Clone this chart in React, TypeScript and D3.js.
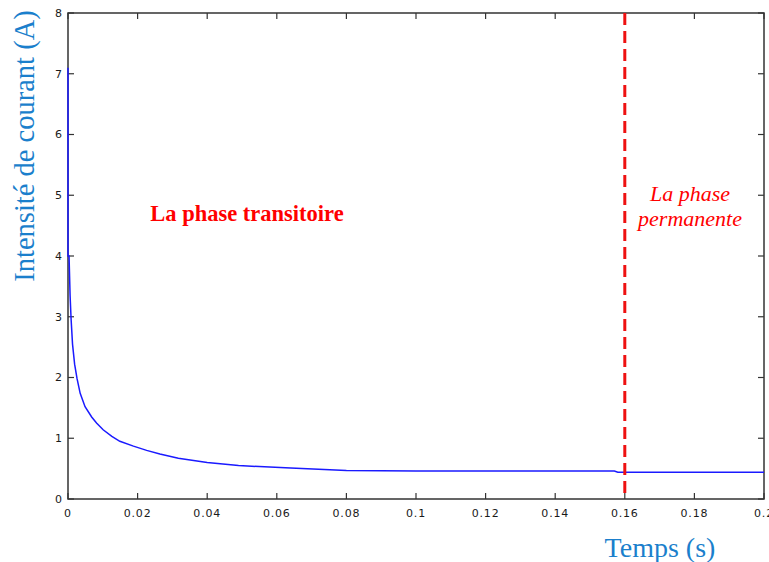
import { useEffect, useRef } from 'react';
import * as d3 from 'd3';

// courbe du courant (A) en fonction du temps (s)
const times = [0, 0, 0.0003, 0.0006, 0.0009, 0.0013, 0.0019, 0.0026, 0.0035, 0.0049, 0.0068, 0.0082, 0.0101, 0.0126, 0.0149, 0.0188, 0.0226, 0.0264, 0.0317, 0.04, 0.049, 0.064, 0.08, 0.1, 0.157, 0.158, 0.2];
const current = [7.1, 4.0, 4.0, 3.35, 2.95, 2.55, 2.22, 1.98, 1.74, 1.52, 1.35, 1.25, 1.14, 1.03, 0.95, 0.87, 0.8, 0.74, 0.67, 0.6, 0.55, 0.51, 0.47, 0.46, 0.46, 0.44, 0.44];
const xTicks = [0, 0.02, 0.04, 0.06, 0.08, 0.1, 0.12, 0.14, 0.16, 0.18, 0.2];
const xTickLabels = ['0', '0.02', '0.04', '0.06', '0.08', '0.1', '0.12', '0.14', '0.16', '0.18', '0.2'];
const yTicks = [0, 1, 2, 3, 4, 5, 6, 7, 8];
const boundary = 0.16;

export default function App() {
  const svgRef = useRef<SVGSVGElement>(null);
  const width = 769;
  const height = 562;

  useEffect(() => {
    if (!svgRef.current) return;
    const svg = d3.select(svgRef.current);
    svg.selectAll('*').remove();

    const margin = { top: 13, right: 5, bottom: 63, left: 68 };
    const x = d3.scaleLinear().domain([0, 0.2]).range([margin.left, width - margin.right]);
    const y = d3.scaleLinear().domain([0, 8]).range([height - margin.bottom, margin.top]);
    const axisColor = '#333';
    const tickFont = 'DejaVu Sans, sans-serif';

    // cadre
    svg.append('rect')
      .attr('x', x(0)).attr('y', y(8))
      .attr('width', x(0.2) - x(0)).attr('height', y(0) - y(8))
      .attr('fill', 'none').attr('stroke', axisColor).attr('stroke-width', 1.5);

    // ticks intérieurs (bas + haut)
    const xt = svg.append('g');
    xTicks.forEach((t, i) => {
      xt.append('line').attr('x1', x(t)).attr('x2', x(t)).attr('y1', y(0)).attr('y2', y(0) - 6)
        .attr('stroke', axisColor).attr('stroke-width', 1.2);
      xt.append('line').attr('x1', x(t)).attr('x2', x(t)).attr('y1', y(8)).attr('y2', y(8) + 6)
        .attr('stroke', axisColor).attr('stroke-width', 1.2);
      xt.append('text').attr('x', x(t)).attr('y', y(0) + 18)
        .attr('text-anchor', 'middle').attr('font-family', tickFont).attr('font-size', 11)
        .attr('letter-spacing', 0.8).attr('fill', '#1a1a1a').text(xTickLabels[i]);
    });

    const yt = svg.append('g');
    yTicks.forEach(v => {
      yt.append('line').attr('x1', x(0)).attr('x2', x(0) + 6).attr('y1', y(v)).attr('y2', y(v))
        .attr('stroke', axisColor).attr('stroke-width', 1.2);
      yt.append('line').attr('x1', x(0.2)).attr('x2', x(0.2) - 6).attr('y1', y(v)).attr('y2', y(v))
        .attr('stroke', axisColor).attr('stroke-width', 1.2);
      yt.append('text').attr('x', x(0) - 6).attr('y', y(v)).attr('dy', '0.35em')
        .attr('text-anchor', 'end').attr('font-family', tickFont).attr('font-size', 11)
        .attr('fill', '#1a1a1a').text(String(v));
    });

    // courbe
    const pts = times.map((t, i) => [t, current[i]] as [number, number]);
    const line = d3.line<[number, number]>().x(d => x(d[0])).y(d => y(d[1]));
    svg.append('path').attr('d', line(pts)).attr('fill', 'none')
      .attr('stroke', '#1a1aff').attr('stroke-width', 1.5);

    // limite des phases
    svg.append('line').attr('x1', x(boundary)).attr('x2', x(boundary))
      .attr('y1', y(8)).attr('y2', y(0))
      .attr('stroke', '#ee1111').attr('stroke-width', 3).attr('stroke-dasharray', '12,6');

    const serif = 'Liberation Serif, Times New Roman, serif';
    svg.append('text').attr('x', 247).attr('y', 221).attr('text-anchor', 'middle')
      .attr('font-family', serif).attr('font-weight', 'bold').attr('font-size', 22.5)
      .attr('fill', '#ff0000').text('La phase transitoire');
    svg.append('text').attr('x', 690).attr('y', 201).attr('text-anchor', 'middle')
      .attr('font-family', serif).attr('font-style', 'italic').attr('font-size', 22)
      .attr('fill', '#ff0000').text('La phase');
    svg.append('text').attr('x', 690).attr('y', 226).attr('text-anchor', 'middle')
      .attr('font-family', serif).attr('font-style', 'italic').attr('font-size', 22)
      .attr('fill', '#ff0000').text('permanente');

    // titres des axes
    svg.append('text').attr('x', 660).attr('y', 557).attr('text-anchor', 'middle')
      .attr('font-family', serif).attr('font-size', 28).attr('fill', '#1b7fcc').text('Temps (s)');
    svg.append('text').attr('transform', 'translate(34,146) rotate(-90)').attr('text-anchor', 'middle')
      .attr('font-family', serif).attr('font-size', 28.5).attr('fill', '#1b7fcc')
      .text('Intensité de courant (A)');
  }, []);

  return (
    <div style={{ position: 'absolute', left: 0, top: 0 }}>
      <svg ref={svgRef} width={width} height={height} style={{ display: 'block', background: '#fff' }} />
    </div>
  );
}
